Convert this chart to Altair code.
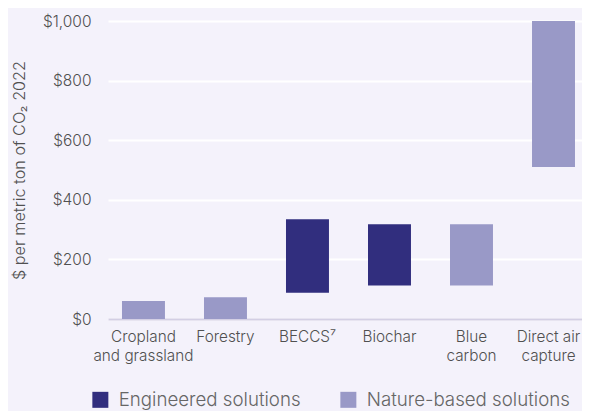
import altair as alt
import pandas as pd

categories = ["Cropland\nand grassland", "Forestry", "BECCS⁷", "Biochar", "Blue\ncarbon", "Direct air\ncapture"]
low_values = [0, 0, 88, 112, 112, 510]
high_values = [60, 73, 335, 318, 318, 1000]
solution_types = ["Nature-based solutions", "Nature-based solutions", "Engineered solutions",
                  "Engineered solutions", "Nature-based solutions", "Nature-based solutions"]
legend_domain = ["Engineered solutions", "Nature-based solutions"]
legend_colors = ["#312E7E", "#9999C7"]
y_ticks = [0, 200, 400, 600, 800, 1000]

df = pd.DataFrame({
    "category": categories,
    "low": low_values,
    "high": high_values,
    "type": solution_types,
})

FONT = "Inter"
TEXT = "#505050"

chart = alt.Chart(df).mark_bar().encode(
    x=alt.X("category:N", sort=None,
            scale=alt.Scale(paddingInner=0.476, paddingOuter=0.128, align=0.666),
            axis=alt.Axis(title=None, labelAngle=0, ticks=False, labelPadding=10,
                          labelExpr="split(datum.label, '\\n')", labelLineHeight=19,
                          labelFontSize=15.3, labelColor=TEXT, labelFont=FONT,
                          labelFontWeight=300,
                          labelOffset={"condition": {"test": "indexof(datum.value, 'Direct') >= 0",
                                                     "value": -5},
                                       "value": 0},
                          domainColor="#D3CFE4", domainWidth=2, grid=False)),
    y=alt.Y("low:Q",
            scale=alt.Scale(domain=[0, 1000], nice=False),
            axis=alt.Axis(title="$ per metric ton of CO₂ 2022", values=y_ticks,
                          labelExpr="'$' + format(datum.value, ',')",
                          ticks=False, domain=False, labelPadding=17,
                          labelFontSize=15.5, labelColor=TEXT, labelFont=FONT,
                          labelFontWeight=300,
                          titleFontSize=16.2, titleFontWeight=300, titleColor=TEXT,
                          titleFont=FONT, titlePadding=15,
                          grid=True, gridColor="#FFFFFF", gridWidth=2)),
    y2="high:Q",
    color=alt.Color("type:N",
                    scale=alt.Scale(domain=legend_domain, range=legend_colors),
                    legend=alt.Legend(title=None, orient="none", direction="horizontal",
                                      legendX=-17, legendY=369,
                                      symbolType="square", symbolSize=256,
                                      symbolStrokeWidth=0, symbolOpacity=1,
                                      labelFontSize=18.7, labelColor="#666666", labelFont=FONT,
                                      labelFontWeight=300, labelLimit=0,
                                      labelOffset=9, columnPadding=38)),
).properties(
    width=474,
    height=298,
    background="#F4F2FB",
    padding={"left": 100, "top": 13, "right": 0, "bottom": 92},
    autosize=alt.AutoSizeParams(type="none"),
).configure_view(stroke=None)

chart.save("out.html", embed_options={"renderer": "svg", "actions": False})
